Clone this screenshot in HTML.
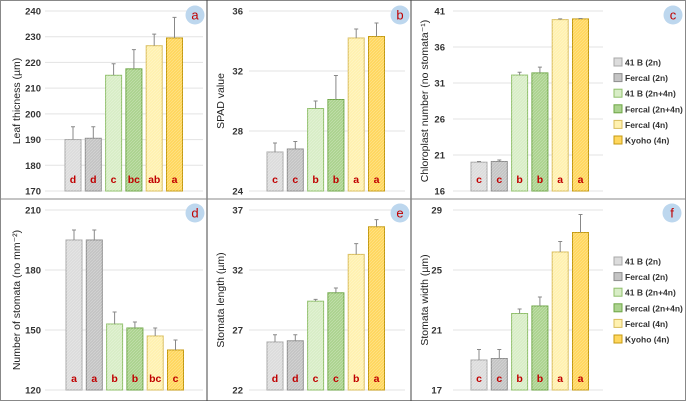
<!DOCTYPE html>
<html><head><meta charset="utf-8"><style>
body{margin:0;background:#fff}
svg{display:block;font-family:"Liberation Sans",sans-serif}
</style></head><body>
<svg id="c" width="686" height="401" viewBox="0 0 686 401">
<defs>
<pattern id="hatch" width="3" height="3" patternUnits="userSpaceOnUse"><path d="M0,3 L3,0" stroke="#fff" stroke-width="0.6" opacity="0.35"/></pattern>
</defs>
<rect x="0.5" y="0.5" width="685" height="400" fill="#fff" stroke="#888"/>
<line x1="207" y1="0" x2="207" y2="401" stroke="#444"/>
<line x1="411" y1="0" x2="411" y2="401" stroke="#444"/>
<line x1="0" y1="199" x2="686" y2="199" stroke="#888"/>
</svg>
<script>
const genotypes = ["41 B (2n)","Fercal (2n)","41 B (2n+4n)","Fercal (2n+4n)","Fercal (4n)","Kyoho (4n)"];
const leafThick = [190,190.5,215,217.5,226.5,229.5];
const leafThickErr = [5,4.5,4.5,7.5,4.5,8];
const leafThickLetters = ["d","d","c","bc","ab","a"];
const spad = [26.6,26.8,29.5,30.1,34.2,34.3];
const spadErr = [0.6,0.5,0.5,1.6,0.6,0.9];
const spadLetters = ["c","c","b","b","a","a"];
const chloro = [20.0,20.1,32.1,32.4,39.8,39.9];
const chloroErr = [0.1,0.2,0.4,0.8,0.1,0.05];
const chloroLetters = ["c","c","b","b","a","a"];
const stomNum = [195,195,153,151,147,140];
const stomNumErr = [5,5,6,3,4,5];
const stomNumLetters = ["a","a","b","b","bc","c"];
const stomLen = [26,26.1,29.4,30.1,33.3,35.6];
const stomLenErr = [0.6,0.5,0.15,0.4,0.9,0.6];
const stomLenLetters = ["d","d","c","c","b","a"];
const stomWid = [19.0,19.1,22.1,22.6,26.2,27.5];
const stomWidErr = [0.7,0.6,0.3,0.6,0.7,1.2];
const stomWidLetters = ["c","c","b","b","a","a"];
const ticksA=[170,180,190,200,210,220,230,240];
const ticksB=[24,28,32,36];
const ticksC=[16,21,26,31,36,41];
const ticksD=[120,150,180,210];
const ticksE=[22,27,32,37];
const ticksF=[17,21,25,29];

const fills=["#dcdcdc","#c4c4c4","#d8edc6","#acd38f","#fff1b0","#ffd75e"];
const strokes=["#a8a8a8","#8e8e8e","#8fbf6a","#6da544","#d9bd5c","#c49a10"];
const NS="http://www.w3.org/2000/svg";
const svg=document.getElementById('c');
function mk(t,a,p){const e=document.createElementNS(NS,t);for(const k in a)e.setAttribute(k,a[k]);(p||svg).appendChild(e);return e;}

const panels=[
 {id:"a",vals:leafThick,err:leafThickErr,let:leafThickLetters,ticks:ticksA,top:11,bot:191,bx:65,tx:41,gx0:45,gx1:203,title:"Leaf thicness (µm)",ttx:20,cx:195,cy:15},
 {id:"b",vals:spad,err:spadErr,let:spadLetters,ticks:ticksB,top:11,bot:191,bx:267,tx:243,gx0:249,gx1:405,title:"SPAD value",ttx:224,cx:400,cy:15},
 {id:"c",vals:chloro,err:chloroErr,let:chloroLetters,ticks:ticksC,top:11,bot:191,bx:471,tx:445,gx0:453,gx1:603,title:"Chloroplast number (no stomata⁻¹)",ttx:428,cx:673,cy:15,legend:62},
 {id:"d",vals:stomNum,err:stomNumErr,let:stomNumLetters,ticks:ticksD,top:210,bot:390,bx:66,tx:41,gx0:45,gx1:203,title:"Number of stomata (no mm⁻²)",ttx:20,cx:195,cy:213},
 {id:"e",vals:stomLen,err:stomLenErr,let:stomLenLetters,ticks:ticksE,top:210,bot:390,bx:267,tx:243,gx0:249,gx1:405,title:"Stomata length (µm)",ttx:224,cx:400,cy:213},
 {id:"f",vals:stomWid,err:stomWidErr,let:stomWidLetters,ticks:ticksF,top:210,bot:390,bx:471,tx:442,gx0:453,gx1:603,title:"Stomata width (µm)",ttx:428,cx:672,cy:213,legend:261}
];

panels.forEach(p=>{
 const g=mk('g',{});
 
 
 const mn=p.ticks[0],mx=p.ticks[p.ticks.length-1];
 const y=v=>p.bot-(v-mn)/(mx-mn)*(p.bot-p.top);
 p.ticks.forEach(t=>{
  const l=mk('line',{x1:p.gx0,x2:p.gx1,y1:y(t),y2:y(t),stroke:"#e3e3e3","stroke-width":1},g);
  
  
  const tx=mk('text',{x:p.tx,y:y(t)+3.5,"text-anchor":"end","font-size":"9.5","font-weight":"bold",fill:"#333"},g);
  tx.textContent=t;
  
  
 });
 const ty=(p.top+p.bot)/2;
 const tt=mk('text',{x:p.ttx,y:ty,"text-anchor":"middle","font-size":"10.5",fill:"#222",transform:`rotate(-90 ${p.ttx} ${ty})`},g);
 tt.textContent=p.title;
 
 
 p.vals.forEach((v,i)=>{
  const x=p.bx+i*20.3, w=16;
  const r=mk('rect',{x:x,y:y(v),width:w,height:p.bot-y(v),fill:fills[i],stroke:strokes[i],"stroke-width":1},g);
  
  
  mk('rect',{x:x,y:y(v),width:w,height:p.bot-y(v),fill:"url(#hatch)"},g);
  const cxm=x+w/2, ye=y(v+p.err[i]);
  const e=mk('path',{d:`M${cxm},${y(v)} V${ye} M${cxm-2},${ye} H${cxm+2}`,stroke:"#888","stroke-width":1,fill:"none"},g);
  
  
  const lt=mk('text',{x:cxm,y:p.bot-8,"text-anchor":"middle","font-size":"10.5","font-weight":"bold",fill:"#c00000"},g);
  lt.textContent=p.let[i];
  
  
 });
 const c=mk('circle',{cx:p.cx,cy:p.cy,r:9.5,fill:"#bdd7ee"},g);
 
 
 const ct=mk('text',{x:p.cx,y:p.cy+4.5,"text-anchor":"middle","font-size":"13",fill:"#c00000"},g);
 ct.textContent=p.id;
 
 
 if(p.legend){
  genotypes.forEach((n,i)=>{
   const ly=p.legend+i*15.6;
   const s=mk('rect',{x:614,y:ly-4,width:8,height:8,fill:fills[i],stroke:strokes[i]},g);
   
   
   const lt=mk('text',{x:625,y:ly+3.5,"font-size":"8.5","font-weight":"bold",fill:"#333"},g);
   lt.textContent=n;
   
   
  });
 }
});
</script>
</body></html>
